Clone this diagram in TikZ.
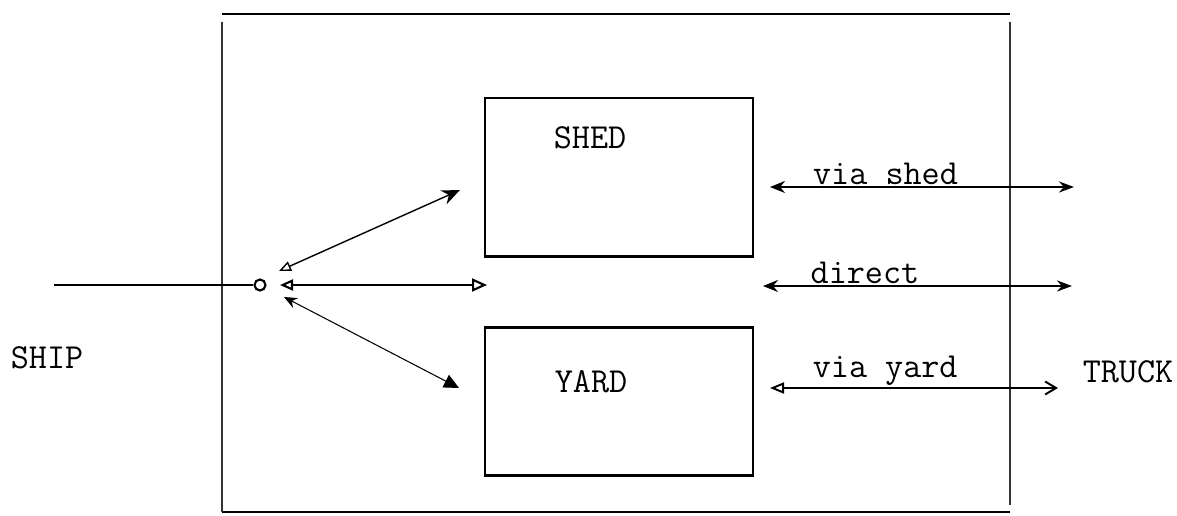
\documentclass[tikz,border=0pt]{standalone}
\usetikzlibrary{arrows.meta,positioning}
\tikzset
{
    area/.style   = {rectangle, draw=black, thick, minimum width=5.36cm, inner sep=0pt},
    tag/.style    = {font=\ttfamily\fontsize{20}{24}\selectfont, inner sep=1pt},
    joint/.style  = {circle, draw=black, very thick, minimum size=0.22cm, inner sep=0pt},
    rim/.style    = {draw=black, line width=1.1pt},
    side/.style   = {draw=black!80, semithick},
    twoway/.style = {line width=1.1pt, {Stealth[length=0.3cm, width=0.24cm]}-{Stealth[length=0.3cm, width=0.22cm]}},
    route/.style  = {anchor=south, pos=#1}
}

\begin{document}
\begin{tikzpicture}[x=0.02cm, y=-0.02cm]
   \useasboundingbox (0,0) rectangle (1177,515);

   % terminal frame
   \coordinate (ftl) at (222,14);
   \coordinate (ftr) at (1010,14);
   \coordinate (fbl) at (222,512);
   \coordinate (fbr) at (1010,512);
   \draw[rim]  (ftl) -- (ftr);
   \draw[rim]  (fbl) -- (fbr);
   \draw[side] ([yshift=-0.16cm]ftl) -- (fbl);
   \draw[side] ([yshift=-0.16cm]ftr) -- ([yshift=0.14cm]fbr);

   % storage areas
   \node (shed)     [area, minimum height=3.16cm]   at (619,177)     {};
   \node (yard)     [area, minimum height=2.94cm]   at (619,401.5)   {};
   \draw[rim] (shed.south west) -- (shed.south east);
   \draw[rim] (yard.north west) -- (yard.north east);
   \draw[rim] (yard.south west) -- (yard.south east);

   \node (shedtxt)  [tag]                           at (590,138)     {SHED};
   \node (yardtxt)  [tag]                           at (591,382)     {YARD};
   \node (ship)     [tag]                           at (47,358)      {SHIP};
   \node (truck)    [tag]                           at (1128,372)    {TRUCK};

   % quay side
   \node (jn)       [joint]                         at (260,285)     {};
   \coordinate (sin) at (54,285);
   \coordinate (ju)  at (279,271);
   \coordinate (jm)  at (280,285);
   \coordinate (jd)  at (284,297);
   \coordinate (su)  at (460,190);
   \coordinate (dm)  at (487,285);
   \coordinate (yd)  at (459,388);

   % land side
   \coordinate (vs0) at (770,187);
   \coordinate (vs1) at (1074,187);
   \coordinate (dr0) at (763,286);
   \coordinate (dr1) at (1072,286);
   \coordinate (vy0) at (770,388);
   \coordinate (vy1) at (1058,388);

   \path
      (sin) edge[thick]  (jn)
      (ju)  edge[thick, {Triangle[open, length=0.24cm, width=0.2cm]}-{Stealth[length=0.36cm, width=0.3cm]}]  (su)
      (jm)  edge[line width=1.2pt, {Triangle[open, length=0.26cm, width=0.22cm]}-{Triangle[open, length=0.3cm, width=0.26cm]}]  (dm)
      (jd)  edge[semithick, {Stealth[length=0.26cm, width=0.22cm]}-{Triangle[length=0.3cm, width=0.28cm]}]  (yd)
      (vs0) edge[twoway]  node[tag, route=0.38] {via shed}  (vs1)
      (dr0) edge[twoway]  node[tag, route=0.33] {direct}    (dr1)
      (vy0) edge[line width=1.1pt, {Triangle[open, length=0.28cm, width=0.22cm]}-{Straight Barb[length=0.22cm, width=0.26cm]}]  node[tag, route=0.40] {via yard}  (vy1);
\end{tikzpicture}
\end{document}
